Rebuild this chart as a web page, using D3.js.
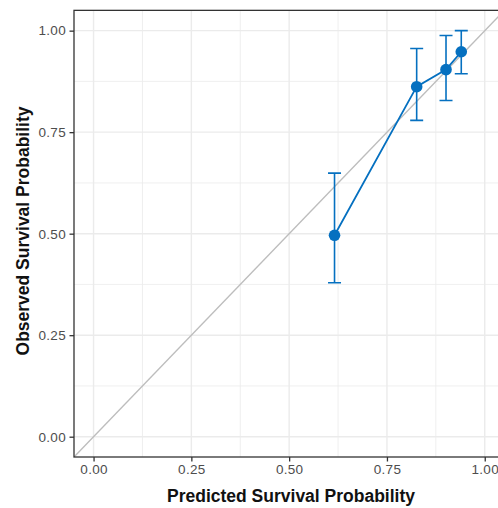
<!DOCTYPE html>
<html>
<head>
<meta charset="utf-8">
<script src="https://cdn.jsdelivr.net/npm/d3@7"></script>
<style>
  html, body { margin: 0; padding: 0; background: #fff; }
  svg { display: block; }
</style>
</head>
<body>
<div id="chart"></div>
<script>
// Data
const predicted = [0.616, 0.826, 0.901, 0.940];
const observed  = [0.496, 0.862, 0.904, 0.948];
const lower     = [0.379, 0.779, 0.828, 0.894];
const upper     = [0.649, 0.956, 0.988, 1.000];
const tickValues = [0, 0.25, 0.5, 0.75, 1];
const tickLabels = ["0.00", "0.25", "0.50", "0.75", "1.00"];
const minorTicks = [0.125, 0.375, 0.625, 0.875];
const xTitle = "Predicted Survival Probability";
const yTitle = "Observed Survival Probability";

const W = 498, H = 508;
const panel = { left: 74, top: 10.35, right: 504.3, bottom: 457 };

const x = d3.scaleLinear().domain([-0.05, 1.05]).range([panel.left, panel.right]);
const y = d3.scaleLinear().domain([-0.05, 1.05]).range([panel.bottom, panel.top]);

const svg = d3.select("#chart").append("svg").attr("width", W).attr("height", H);

const data = predicted.map((p, i) => ({ p, o: observed[i], lo: lower[i], hi: upper[i] }));

// panel background
svg.append("rect").attr("x", panel.left).attr("y", panel.top)
  .attr("width", panel.right - panel.left).attr("height", panel.bottom - panel.top)
  .attr("fill", "#fff");

const grid = svg.append("g");
// minor grid
grid.selectAll(".mx").data(minorTicks).join("line")
  .attr("x1", d => x(d)).attr("x2", d => x(d)).attr("y1", panel.top).attr("y2", panel.bottom)
  .attr("stroke", "#ebebeb").attr("stroke-width", 0.8);
grid.selectAll(".my").data(minorTicks).join("line")
  .attr("y1", d => y(d)).attr("y2", d => y(d)).attr("x1", panel.left).attr("x2", panel.right)
  .attr("stroke", "#ebebeb").attr("stroke-width", 0.8);
// major grid
grid.selectAll(".Mx").data(tickValues).join("line")
  .attr("x1", d => x(d)).attr("x2", d => x(d)).attr("y1", panel.top).attr("y2", panel.bottom)
  .attr("stroke", "#ebebeb").attr("stroke-width", 1.4);
grid.selectAll(".My").data(tickValues).join("line")
  .attr("y1", d => y(d)).attr("y2", d => y(d)).attr("x1", panel.left).attr("x2", panel.right)
  .attr("stroke", "#ebebeb").attr("stroke-width", 1.4);

// clip
svg.append("clipPath").attr("id", "clip").append("rect")
  .attr("x", panel.left).attr("y", panel.top)
  .attr("width", panel.right - panel.left).attr("height", panel.bottom - panel.top);

const plot = svg.append("g").attr("clip-path", "url(#clip)");

// diagonal reference
plot.append("line")
  .attr("x1", x(-0.05)).attr("y1", y(-0.05)).attr("x2", x(1.05)).attr("y2", y(1.05))
  .attr("stroke", "#bdbdbd").attr("stroke-width", 1.4);

const blue = "#0570c0";
// error bars
const eb = plot.append("g").attr("stroke", blue).attr("stroke-width", 1.6).attr("fill", "none");
data.forEach(d => {
  eb.append("line").attr("x1", x(d.p)).attr("x2", x(d.p)).attr("y1", y(d.lo)).attr("y2", y(d.hi));
  eb.append("line").attr("x1", x(d.p) - 6.5).attr("x2", x(d.p) + 6.5).attr("y1", y(d.lo)).attr("y2", y(d.lo));
  eb.append("line").attr("x1", x(d.p) - 6.5).attr("x2", x(d.p) + 6.5).attr("y1", y(d.hi)).attr("y2", y(d.hi));
});

// line
plot.append("path").datum(data)
  .attr("d", d3.line().x(d => x(d.p)).y(d => y(d.o)))
  .attr("fill", "none").attr("stroke", blue).attr("stroke-width", 1.8);

// points
plot.selectAll("circle").data(data).join("circle")
  .attr("cx", d => x(d.p)).attr("cy", d => y(d.o)).attr("r", 5.8).attr("fill", blue);

// panel border
svg.append("rect").attr("x", panel.left).attr("y", panel.top)
  .attr("width", panel.right - panel.left).attr("height", panel.bottom - panel.top)
  .attr("fill", "none").attr("stroke", "#333").attr("stroke-width", 1.3);

// axes
const fmt = (d) => tickLabels[tickValues.indexOf(d)];
const xAxis = svg.append("g").attr("transform", `translate(0,${panel.bottom})`)
  .call(d3.axisBottom(x).tickValues(tickValues).tickFormat(fmt).tickSize(4.5).tickPadding(3));
const yAxis = svg.append("g").attr("transform", `translate(${panel.left},0)`)
  .call(d3.axisLeft(y).tickValues(tickValues).tickFormat(fmt).tickSize(4.5).tickPadding(3.5));
[xAxis, yAxis].forEach(a => {
  a.select(".domain").remove();
  a.selectAll(".tick line").attr("stroke", "#333").attr("stroke-width", 1.3);
  a.selectAll(".tick text").attr("fill", "#4d4d4d")
    .style("font-family", "'Liberation Sans', Arial, sans-serif").style("font-size", "13.5px")
    .style("letter-spacing", "0.3px");
});

// titles
const titleFont = "'Liberation Sans', Arial, sans-serif";
svg.append("text").attr("x", 291).attr("y", 502)
  .attr("text-anchor", "middle")
  .style("font-family", titleFont).style("font-size", "17.5px")
  .style("font-weight", "bold").attr("fill", "#111").text(xTitle);
svg.append("text").attr("transform", `translate(28.5,231) rotate(-90)`)
  .attr("text-anchor", "middle")
  .style("font-family", titleFont).style("font-size", "17.5px")
  .style("font-weight", "bold").attr("fill", "#111").text(yTitle);
</script>
</body>
</html>
